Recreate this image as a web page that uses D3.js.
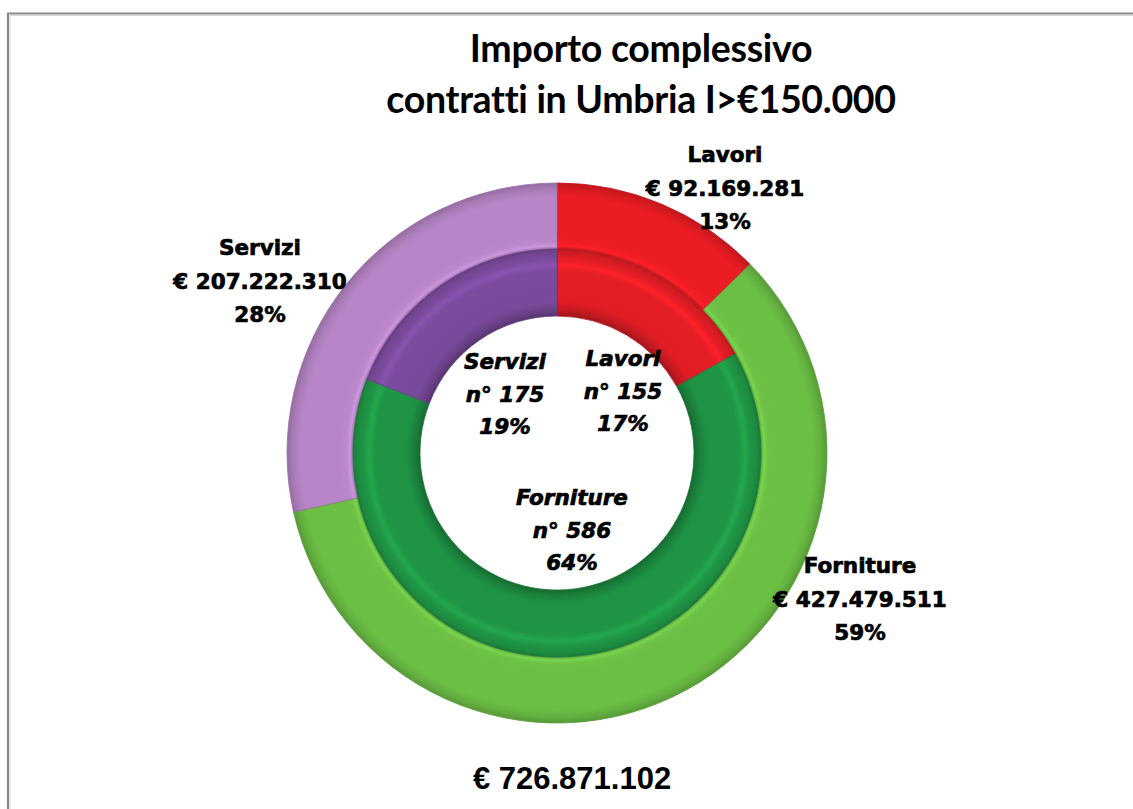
<!DOCTYPE html>
<html lang="it">
<head>
<meta charset="UTF-8">
<title>Importo complessivo contratti in Umbria</title>
<script src="https://d3js.org/d3.v7.min.js"></script>
<style>
  body { margin: 0; background: #fff; overflow: hidden; }
  .title { font-family: Lato, sans-serif; font-weight: 700; font-size: 37.5px; fill: #000; letter-spacing: -0.3px; }
  .outer-label { font-family: "DejaVu Sans", sans-serif; font-weight: 700; font-size: 21.5px; fill: #000; stroke: #000; stroke-width: 0.7px; }
  .inner-label { font-family: "DejaVu Sans", sans-serif; font-weight: 700; font-style: italic; font-size: 21.5px; fill: #000; stroke: #000; stroke-width: 0.7px; }
  .total { font-family: "Liberation Sans", Arial, sans-serif; font-weight: 700; font-size: 31px; fill: #000; }
</style>
</head>
<body>
<svg width="1133" height="809"></svg>
<script>
// data
const categories = ['Lavori', 'Forniture', 'Servizi'];
const importi = [92169281, 427479511, 207222310];   // outer ring, euro
const importiPct = [13, 59, 28];
const numeri = [155, 586, 175];                      // inner ring, n. contratti
const numeriPct = [17, 64, 19];
const titleLines = ['Importo complessivo', 'contratti in Umbria I>€150.000'];

// colours per category: outer ring, inner ring
const outerColors = ['#ec1c24', '#6cbf45', '#b886c8'];
const innerColors = ['#e41e26', '#1f9645', '#7b4b9e'];

const width = 1133, height = 809;
const cx = 557, cy = 453;
const rOuter = 270, rMid = 204, rInner = 137;

// label layout (offsets from centre)
const outerLabelPos = [[168, -291], [303, 120], [-297, -198]];
const innerLabelPos = [[66, -87], [15, 52], [-52, -84]];

const it = d3.formatLocale({decimal: ',', thousands: '.', grouping: [3], currency: ['€', '']});
const fmt = it.format(',d');

const svg = d3.select('svg');
const defs = svg.append('defs');

// frame
svg.append('path')
  .attr('d', `M8,${height} V13.5 H${width}`)
  .attr('fill', 'none').attr('stroke', '#8a8a8a').attr('stroke-width', 2.2);
svg.append('path')
  .attr('d', `M10,${height} V15.5 H${width}`)
  .attr('fill', 'none').attr('stroke', '#d8d8d8').attr('stroke-width', 1);

// title
const title = svg.append('text').attr('class', 'title').attr('text-anchor', 'middle');
titleLines.forEach((t, i) => {
  title.append('tspan').attr('x', 641).attr('y', 62 + i * 51).text(t);
});

const pie = d3.pie().sort(null).value(d => d);

// tube-like shading: radial gradient per slice
function tubeGradient(id, color, stops) {
  const g = defs.append('radialGradient')
    .attr('id', id)
    .attr('gradientUnits', 'userSpaceOnUse')
    .attr('cx', 0).attr('cy', 0).attr('r', rOuter);
  stops.forEach(([r, k]) => {
    const c = d3.color(color);
    const col = k >= 0 ? c.brighter(k) : c.darker(-k);
    g.append('stop').attr('offset', r / rOuter).attr('stop-color', col.formatHex());
  });
  return `url(#${id})`;
}

const chart = svg.append('g').attr('transform', `translate(${cx},${cy})`);

// outer ring: importi
const outerArc = d3.arc().innerRadius(rMid).outerRadius(rOuter);
const outerStops = [[rMid, -0.5], [rMid + 3, 0.3], [rMid + 7, 0.05], [rMid + 14, 0], [rOuter - 14, 0], [rOuter - 6, -0.25], [rOuter, -0.6]];
chart.append('g').selectAll('path')
  .data(pie(importi))
  .join('path')
  .attr('d', outerArc)
  .attr('fill', (d, i) => tubeGradient('go' + i, outerColors[i], outerStops))
  .attr('stroke', (d, i) => d3.color(outerColors[i]).darker(0.5))
  .attr('stroke-width', 0.8);

// inner ring: numero contratti
const innerArc = d3.arc().innerRadius(rInner).outerRadius(rMid);
const innerStops = [[rInner, -1.0], [rInner + 5, -0.5], [rInner + 14, -0.05], [rMid - 22, 0], [rMid - 16, 0.3], [rMid - 11, 0], [rMid - 3, -0.25], [rMid, -0.65]];
chart.append('g').selectAll('path')
  .data(pie(numeri))
  .join('path')
  .attr('d', innerArc)
  .attr('fill', (d, i) => tubeGradient('gi' + i, innerColors[i], innerStops))
  .attr('stroke', (d, i) => d3.color(innerColors[i]).darker(0.6))
  .attr('stroke-width', 0.8);

// outer labels
categories.forEach((c, i) => {
  const t = chart.append('text').attr('class', 'outer-label').attr('text-anchor', 'middle');
  [c, '€ ' + fmt(importi[i]), importiPct[i] + '%'].forEach((s, j) => {
    t.append('tspan').attr('x', outerLabelPos[i][0]).attr('y', outerLabelPos[i][1] + j * 33.5).text(s);
  });
});

// inner labels
categories.forEach((c, i) => {
  const t = chart.append('text').attr('class', 'inner-label').attr('text-anchor', 'middle');
  [c, 'n° ' + numeri[i], numeriPct[i] + '%'].forEach((s, j) => {
    t.append('tspan').attr('x', innerLabelPos[i][0]).attr('y', innerLabelPos[i][1] + j * 32.5).text(s);
  });
});

// total
svg.append('text').attr('class', 'total')
  .attr('x', 572).attr('y', 789)
  .attr('text-anchor', 'middle')
  .text('€ ' + fmt(d3.sum(importi)));
</script>
</body>
</html>
